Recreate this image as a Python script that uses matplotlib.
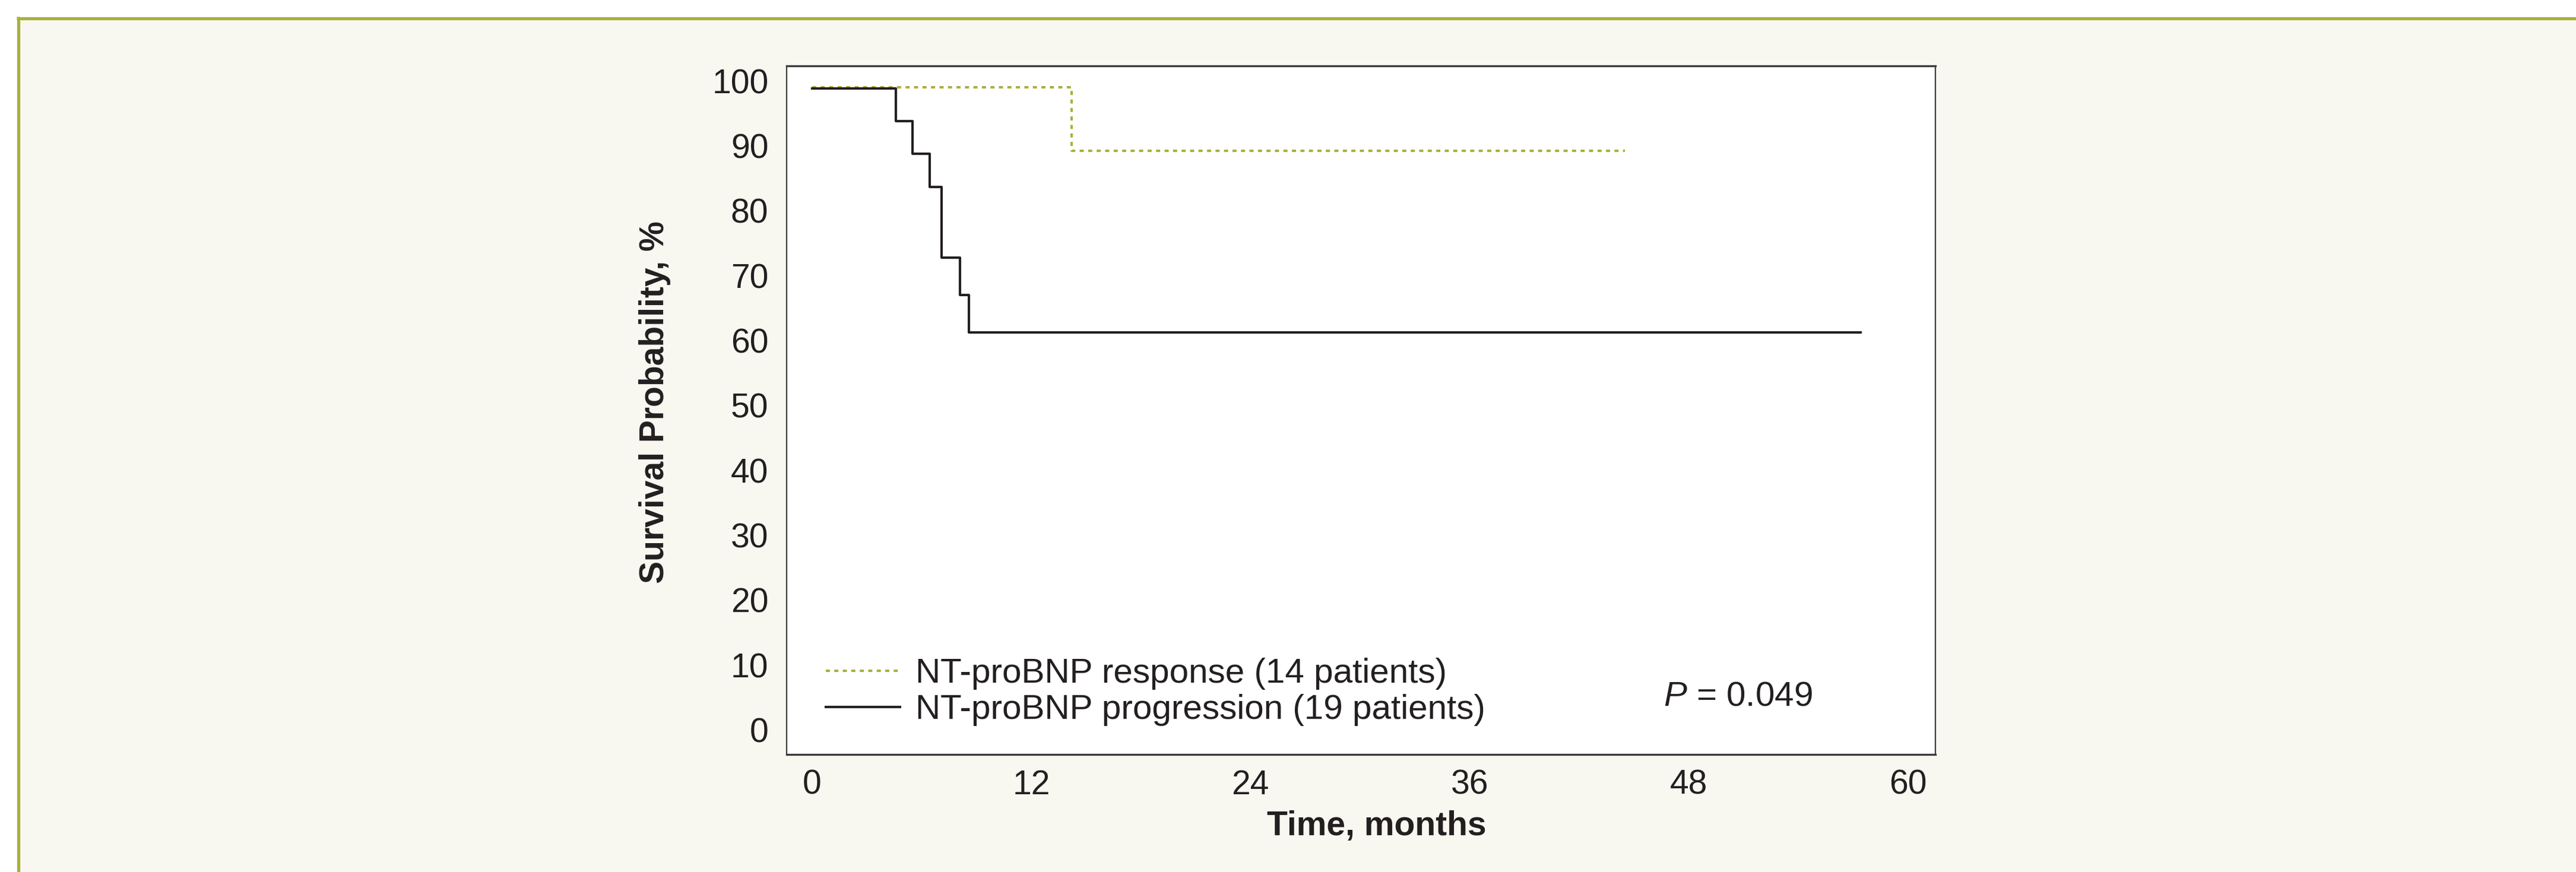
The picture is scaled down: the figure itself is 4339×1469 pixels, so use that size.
import matplotlib

matplotlib.use("Agg")

import matplotlib.pyplot as plt
from matplotlib.lines import Line2D
from matplotlib.patches import Rectangle

plt.rcParams["font.family"] = ["Liberation Sans", "DejaVu Sans"]
plt.rcParams["mathtext.fontset"] = "custom"
plt.rcParams["mathtext.rm"] = "Liberation Sans"
plt.rcParams["mathtext.it"] = "Liberation Sans:italic"

# Kaplan-Meier steps (months, survival %)
resp_time = [0, 14.2, 44.5]
resp_surv = [99.0, 89.2, 89.2]
prog_time = [0, 4.6, 5.5, 6.45, 7.1, 8.1, 8.6, 57.4]
prog_surv = [98.8, 93.8, 88.8, 83.6, 72.8, 67.0, 61.2, 61.2]

labels = ["NT-proBNP response (14 patients)", "NT-proBNP progression (19 patients)"]
x_ticks = [0, 12, 24, 36, 48, 60]
y_ticks = [0, 10, 20, 30, 40, 50, 60, 70, 80, 90, 100]
p_text = r"$P$ = 0.049"

GREEN = "#a9b03a"
INK = "#231f20"
CREAM = "#f8f8f1"

fig = plt.figure(figsize=(43.39, 14.69), dpi=100)
fig.patch.set_facecolor("white")

# cream panel with green frame on top and left
W, H = 4339, 1469
fig.add_artist(Rectangle((30 / W, 0), 1, 1 - 30 / H, transform=fig.transFigure,
                         facecolor=CREAM, edgecolor="none", zorder=-10))
fig.add_artist(Line2D([28 / W, 1], [1 - 30.5 / H] * 2, color=GREEN, lw=3.8,
                      solid_capstyle="butt", transform=fig.transFigure, zorder=-5))
fig.add_artist(Line2D([30.5 / W] * 2, [0, 1 - 28 / H], color=GREEN, lw=3.8,
                      solid_capstyle="butt", transform=fig.transFigure, zorder=-5))

ax = fig.add_axes([1325 / W, 1 - 1271 / H, 1935 / W, 1160 / H])
ax.set_zorder(1)
ax.set_facecolor("white")

ax.step(resp_time, resp_surv, where="post", color=GREEN, lw=2.9,
        linestyle=(0, (1.7, 1.85)), label=labels[0])
ax.step(prog_time, prog_surv, where="post", color=INK, lw=2.9, label=labels[1])

ax.set_xlim(-1.39, 61.5)
ax.set_ylim(-3.8, 102.3)
ax.set_xticks(x_ticks)
ax.set_yticks(y_ticks)
ax.tick_params(axis="both", length=0, labelsize=41, colors=INK)
ax.tick_params(axis="x", pad=18)
ax.tick_params(axis="y", pad=22)
for s in ax.spines.values():
    s.set_color("#3a3a3a")
    s.set_linewidth(1.6)
ax.spines["top"].set_linewidth(2.4)
ax.spines["bottom"].set_linewidth(2.4)

leg = ax.legend(loc="center left", bbox_to_anchor=(0.034, 0.091), frameon=False,
                fontsize=42, handlelength=2.14, handletextpad=0.45, labelspacing=0.12,
                borderpad=0, borderaxespad=0)
for t in leg.get_texts():
    t.set_color(INK)

ax.text(46.6, 5.15, p_text, fontsize=42, color=INK, ha="left", va="center")

fig.text(1103 / W, 1 - 678 / H, "Survival Probability, %", rotation=90, fontsize=41,
         fontweight="bold", color=INK, ha="center", va="center")
fig.text(2319 / W, 1 - 1392 / H, "Time, months", fontsize=41, fontweight="bold",
         color=INK, ha="center", va="center")

fig.savefig("out.png", dpi=100, facecolor=fig.get_facecolor())
plt.close(fig)
